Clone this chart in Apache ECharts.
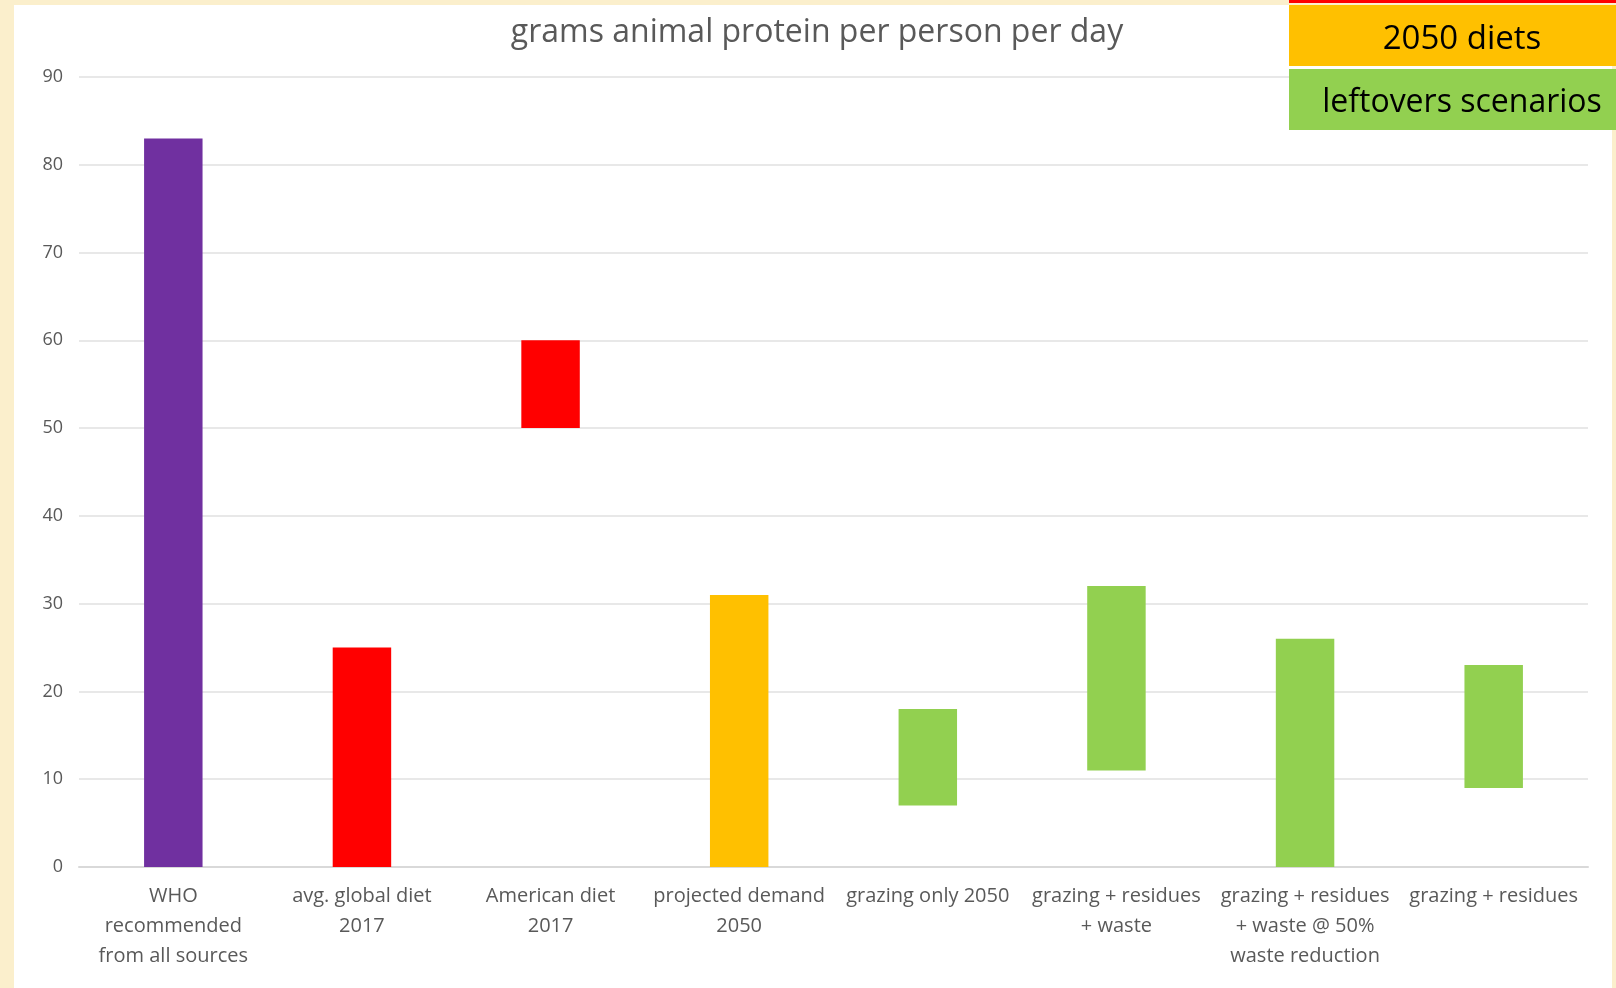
<!DOCTYPE html>
<html>
<head>
<meta charset="utf-8">
<title>grams animal protein per person per day</title>
<script src="https://cdn.jsdelivr.net/npm/echarts@6/dist/echarts.min.js"></script>
<style>
  html, body { margin: 0; padding: 0; background: #fbefcc; }
  #chart { width: 1616px; height: 988px; }
</style>
</head>
<body>
<div id="chart"></div>
<script>
// Diet / scenario categories along the x axis
const categories = [
  'WHO\nrecommended\nfrom all sources',
  'avg. global diet\n2017',
  'American diet\n2017',
  'projected demand\n2050',
  'grazing only 2050',
  'grazing + residues\n+ waste',
  'grazing + residues\n+ waste @ 50%\nwaste reduction',
  'grazing + residues'
];
// Each bar spans a range: low end and high end (g/person/day)
const lowValues  = [0, 0, 50, 0, 7, 11, 0, 9];
const highValues = [83, 25, 60, 31, 18, 32, 26, 23];
const barColors  = ['#7030a0', '#ff0000', '#ff0000', '#ffc000', '#92d050', '#92d050', '#92d050', '#92d050'];
const yTicks = { min: 0, max: 90, interval: 10 };

const chart = echarts.init(document.getElementById('chart'), null, { renderer: 'canvas' });

const FONT = '"Open Sans", "Noto Sans", sans-serif';

chart.setOption({
  animation: false,
  title: {
    text: 'grams animal protein per person per day',
    left: 812,
    top: 12,
    textAlign: 'center',
    textStyle: { fontFamily: FONT, fontSize: 32, fontWeight: 'normal', color: '#595959' }
  },
  grid: { left: 79, right: 28, top: 77, bottom: 121, containLabel: false },
  xAxis: {
    type: 'category',
    data: categories,
    axisTick: { show: false },
    axisLine: { lineStyle: { color: '#d9d9d9', width: 2 } },
    axisLabel: {
      interval: 0,
      margin: 14,
      color: '#595959',
      fontFamily: FONT,
      fontSize: 20,
      lineHeight: 30
    }
  },
  yAxis: {
    type: 'value',
    min: yTicks.min,
    max: yTicks.max,
    interval: yTicks.interval,
    axisLine: { show: false },
    axisTick: { show: false },
    splitLine: { lineStyle: { color: '#e8e8e8', width: 2 } },
    axisLabel: { margin: 16, color: '#595959', fontFamily: FONT, fontSize: 18 }
  },
  series: [
    {
      name: 'base',
      type: 'bar',
      stack: 'range',
      barWidth: '31%',
      silent: true,
      itemStyle: { color: 'transparent' },
      data: lowValues
    },
    {
      name: 'range',
      type: 'bar',
      stack: 'range',
      barWidth: '31%',
      data: highValues.map((h, i) => ({
        value: h - lowValues[i],
        itemStyle: { color: barColors[i] }
      }))
    }
  ],
  graphic: [
    // white chart panel on the parchment backdrop
    { type: 'rect', z: -10, silent: true, shape: { x: 14, y: 5, width: 1598, height: 990 }, style: { fill: '#ffffff' } },
    // key boxes, top right
    { type: 'rect', z: 10, shape: { x: 1289, y: -30, width: 340, height: 33 }, style: { fill: '#ff0000' } },
    { type: 'rect', z: 10, shape: { x: 1289, y: 5, width: 340, height: 61 }, style: { fill: '#ffc000' } },
    { type: 'rect', z: 10, shape: { x: 1289, y: 69, width: 340, height: 61 }, style: { fill: '#92d050' } },
    { type: 'text', z: 11, style: { text: '2050 diets', x: 1462, y: 40, align: 'center', verticalAlign: 'middle', fill: '#000000', font: '33px ' + FONT } },
    { type: 'text', z: 11, style: { text: 'leftovers scenarios', x: 1462, y: 103, align: 'center', verticalAlign: 'middle', fill: '#000000', font: '32px ' + FONT } }
  ]
});
</script>
</body>
</html>
